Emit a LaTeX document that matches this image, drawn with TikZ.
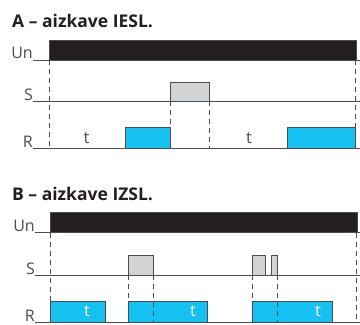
\documentclass[tikz,border=0pt]{standalone}
\usepackage{fontspec}
\setmainfont{Open Sans}
\definecolor{barblack}{HTML}{231F20}
\definecolor{pulseblue}{HTML}{14C1F0}
\definecolor{pulsegray}{HTML}{D1D3D4}
\definecolor{linegray}{HTML}{4D4D4F}
\begin{document}
\begin{tikzpicture}[x=1pt,y=-1pt,
  base/.style={draw=linegray,line width=0.9pt},
  unbar/.style={fill=barblack,draw=linegray,line width=0.6pt},
  spulse/.style={fill=pulsegray,draw=linegray,line width=0.9pt},
  rpulse/.style={fill=pulseblue,draw=linegray,line width=0.9pt},
  guide/.style={draw=linegray,line width=0.9pt,dash pattern=on 5pt off 4pt},
  title/.style={anchor=base west,inner sep=0pt,font=\fontsize{17.5}{18}\selectfont\bfseries,text=barblack},
  sig/.style={anchor=base east,inner sep=0pt,font=\fontsize{16}{17}\selectfont,text=linegray},
  tlab/.style={anchor=base,inner sep=0pt,font=\fontsize{16.5}{17}\selectfont,text=linegray},
  tlabw/.style={anchor=base,inner sep=0pt,font=\fontsize{16.5}{17}\selectfont,text=white}]
\useasboundingbox[fill=white] (0,0) rectangle (360,325);

% ===== Section A =====
\node[title] (tA) at (12,27.5) {A – aizkave IESL.};
\node[sig] (unA) at (33,58.5) {Un};
\node[sig] (sA) at (33,100) {S};
\node[sig] (rA) at (33,147) {R};
% baselines
\draw[base] (33,60) -- (360,60);
\draw[base] (33,101) -- (360,101);
\draw[base] (33,148) -- (360,148);
% Un bar
\draw[unbar] (49,40) rectangle (356,60);
% S pulse
\draw[spulse] (170,101) |- (209.5,82) -- (209.5,101);
% R pulses
\draw[rpulse] (125,148) |- (170,127) -- (170,148);
\draw[rpulse] (287,148) |- (355,127) -- (355,148);
\node[tlab] (tA1) at (86.5,143) {t};
\node[tlab] (tA2) at (249,143) {t};
% guides
\draw[guide] (49,60) -- (49,148);
\draw[guide] (170,101) -- (170,127);
\draw[guide] (209.5,101) -- (209.5,148);
\draw[guide] (355,60) -- (355,148);

% ===== Section B =====
\node[title] (tB) at (12,200) {B – aizkave IZSL.};
\node[sig] (unB) at (35,231.5) {Un};
\node[sig] (sB) at (35,274) {S};
\node[sig] (rB) at (35,321.5) {R};
\draw[base] (35,232.7) -- (360,232.7);
\draw[base] (35,275) -- (360,275);
\draw[base] (35,322) -- (360,322);
\draw[unbar] (50,212.7) rectangle (357.5,232.7);
% S pulses
\draw[spulse] (128,275) |- (153,255) -- (153,275);
\draw[spulse] (252.7,275) |- (265,255) -- (265,275);
\draw[spulse] (271.3,275) |- (277.5,255) -- (277.5,275);
% R pulses
\draw[rpulse] (50,322) |- (105,301) -- (105,322);
\draw[rpulse] (128,322) |- (207.7,301) -- (207.7,322);
\draw[rpulse] (252.5,322) |- (332.7,301) -- (332.7,322);
\node[tlabw] (tB1) at (87,316) {t};
\node[tlabw] (tB2) at (193,316) {t};
\node[tlabw] (tB3) at (318,316) {t};
% guides
\draw[guide] (50,232.7) -- (50,301);
\draw[guide] (128,275) -- (128,301);
\draw[guide] (153,275) -- (153,322);
\draw[guide] (252.7,275) -- (252.7,301);
\draw[guide] (277.5,275) -- (277.5,322);
\draw[guide] (356,232.7) -- (356,322);
\end{tikzpicture}
\end{document}
